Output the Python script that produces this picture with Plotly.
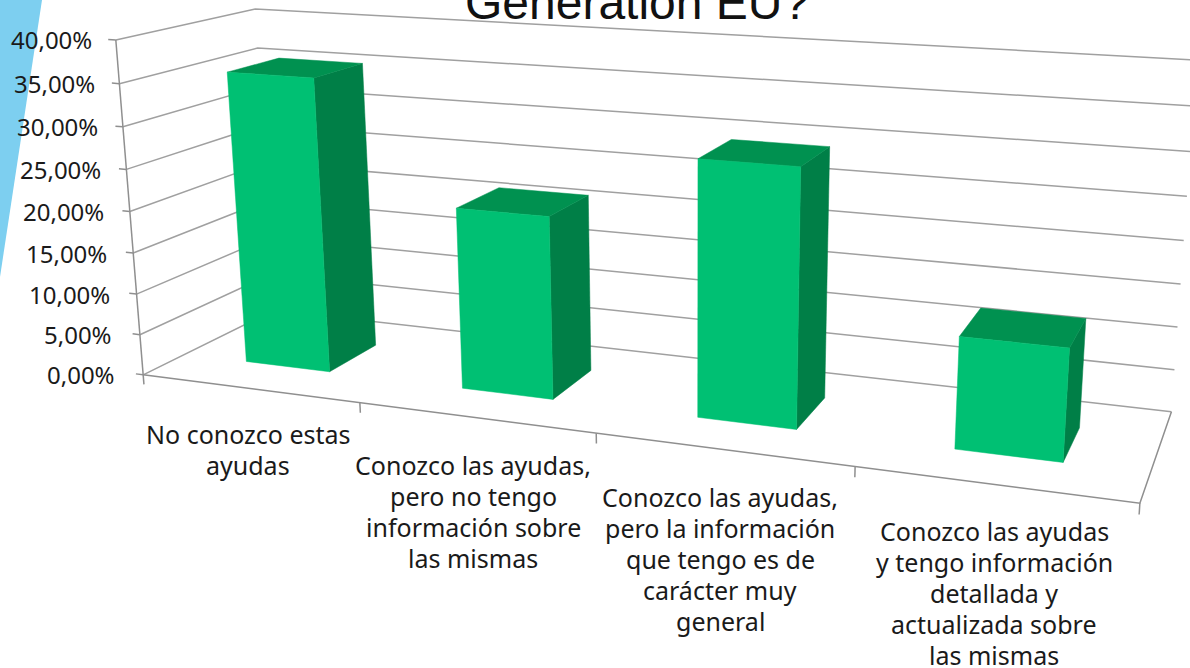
import numpy as np
import plotly.graph_objects as go

categories = [
    ["No conozco estas", "ayudas"],
    ["Conozco las ayudas,", "pero no tengo", "información sobre", "las mismas"],
    ["Conozco las ayudas,", "pero la información", "que tengo es de", "carácter muy", "general"],
    ["Conozco las ayudas", "y tengo información", "detallada y", "actualizada sobre", "las mismas"],
]
values = [35.5, 21.6, 29.5, 12.6]
y_ticks = [0, 5, 10, 15, 20, 25, 30, 35, 40]
y_labels = ["0,00%", "5,00%", "10,00%", "15,00%", "20,00%", "25,00%", "30,00%", "35,00%", "40,00%"]
title_text = "Generation EU?"

# Camera calibration: (category, value, depth) -> pixel of the box corners
calib_world = [(0, 0, 0), (0, 40, 0), (0, 0, 1), (0, 40, 1), (4, 0, 0), (4, 0, 1), (4, 40, 1)]
calib_pixel = [(141, 375), (118, 40), (276, 310), (253, 9), (1140, 503), (1171, 412), (1197, 60)]


def fit_camera(world, pixel):
    rows = []
    for (X, Y, Z), (u, v) in zip(world, pixel):
        rows.append([X, Y, Z, 1, 0, 0, 0, 0, -u * X, -u * Y, -u * Z, -u])
        rows.append([0, 0, 0, 0, X, Y, Z, 1, -v * X, -v * Y, -v * Z, -v])
    return np.linalg.svd(np.array(rows, float))[2][-1].reshape(3, 4)


CAM = fit_camera(calib_world, calib_pixel)


def project(x, y, z):
    p = CAM @ np.array([x, y, z, 1.0])
    return p[0] / p[2], p[1] / p[2]


GRID = "#a0a0a0"
AXIS = "#8f8f8f"
FRONT = "#00C073"
TOP = "#009150"
SIDE = "#007F47"
BAR_W = 0.395
BAR_C = 0.495
Z0, Z1 = 0.30, 0.69
FONT = "Noto Sans"
TXT = "#1a1a1a"

fig = go.Figure()


def line(points, color=GRID, width=1.5):
    xy = [project(*p) for p in points]
    fig.add_trace(go.Scatter(x=[a for a, _ in xy], y=[b for _, b in xy], mode="lines",
                             line=dict(color=color, width=width), hoverinfo="skip", showlegend=False))


def face(points, color):
    xy = [project(*p) for p in points]
    xy.append(xy[0])
    fig.add_trace(go.Scatter(x=[a for a, _ in xy], y=[b for _, b in xy], mode="lines", fill="toself",
                             fillcolor=color, line=dict(color=color, width=0.5),
                             hoverinfo="skip", showlegend=False))


for t in y_ticks:
    line([(0, t, 0), (0, t, 1), (4, t, 1)])
line([(0, 0, 0), (4, 0, 0), (4, 0, 1)], AXIS)
line([(0, 0, 0), (0, 40, 0)], AXIS)

# tick marks: short stubs that continue the floor edges outwards
for t in y_ticks:
    line([(0, t, 0), (-0.035, t, 0)], AXIS)
for i in range(5):
    line([(i, 0, 0), (i, -1.2, 0)], AXIS)

for i, v in enumerate(values):
    a, b = i + BAR_C - BAR_W / 2, i + BAR_C + BAR_W / 2
    face([(b, 0, Z0), (b, 0, Z1), (b, v, Z1), (b, v, Z0)], SIDE)
    face([(a, v, Z0), (b, v, Z0), (b, v, Z1), (a, v, Z1)], TOP)
    face([(a, 0, Z0), (b, 0, Z0), (b, v, Z0), (a, v, Z0)], FRONT)

ann = []
for t, lab in zip(y_ticks, y_labels):
    px, py = project(0, t, 0)
    ann.append(dict(x=px - 26 + 4.5 * t / 40, y=py, text=lab, xref="x", yref="y", xanchor="right", yanchor="middle",
                    showarrow=False, font=dict(family=FONT, size=24, color=TXT)))

label_x = [248, 473, 720, 994]
label_y = [434, 465, 497, 531]
for lines, lx, ly in zip(categories, label_x, label_y):
    for k, s in enumerate(lines):
        ann.append(dict(x=lx, y=ly + k * 31, text=s, xref="x", yref="y", xanchor="center", yanchor="middle",
                        showarrow=False, font=dict(family=FONT, size=25, color=TXT)))

ann.append(dict(x=637, y=2, text=title_text, xref="x", yref="y", xanchor="center", yanchor="middle",
                showarrow=False, font=dict(family="Liberation Sans", size=48, color="#111111")))

fig.update_layout(
    width=1190, height=668, margin=dict(l=0, r=0, t=0, b=0),
    paper_bgcolor="white", plot_bgcolor="white", showlegend=False,
    xaxis=dict(range=[0, 1190], visible=False, fixedrange=True),
    yaxis=dict(range=[668, 0], visible=False, fixedrange=True),
    annotations=ann,
    shapes=[dict(type="path", path="M 0 0 L 42 0 L 0 277 Z", xref="x", yref="y",
                 fillcolor="#7DCFF0", line=dict(width=0), layer="below")],
)
fig.write_html("out.html", config=dict(displayModeBar=False),
               post_script="document.body.style.margin='0';document.documentElement.style.overflow='hidden';")
